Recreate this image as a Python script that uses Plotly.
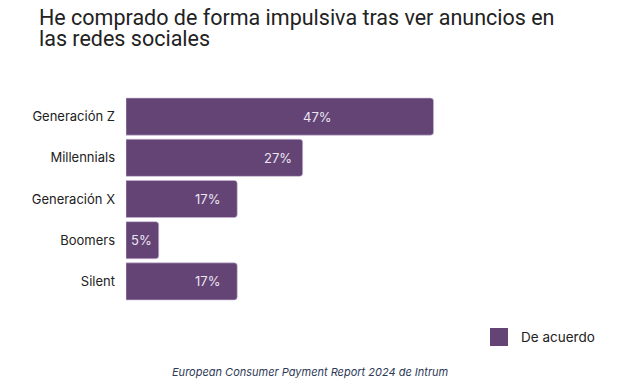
import plotly.graph_objects as go

categories = ["Generación Z", "Millennials", "Generación X", "Boomers", "Silent"]
values = [47, 27, 17, 5, 17]
value_labels = ["47%", "27%", "17%", "5%", "17%"]
series_name = "De acuerdo"
title_lines = ["He comprado de forma impulsiva tras ver anuncios en", "las redes sociales"]
source_text = "European Consumer Payment Report 2024 de Intrum"

# label anchor positions (in % units along the bar)
label_x = [29.2, 23.3, 12.4, 2.4, 12.4]

bar_color = "#634475"

W, H = 640, 384
ml, mr, mt, mb = 126, 56, 96, 82
pw, ph = W - ml - mr, H - mt - mb


def px2paper(px, py):
    return (px - ml) / pw, (H - mb - py) / ph


fig = go.Figure()
fig.add_trace(go.Bar(
    y=categories, x=values, orientation="h",
    marker=dict(color=bar_color, cornerradius=3,
                line=dict(color="#c9b8d6", width=0.6)),
    name=series_name, showlegend=False, hoverinfo="skip",
))

annotations = []
for c, lx, t in zip(categories, label_x, value_labels):
    annotations.append(dict(x=lx, y=c, xref="x", yref="y", text=t,
                            showarrow=False,
                            font=dict(family="Inter, Roboto, sans-serif", size=13, color="#ece4f2")))

# title lines
for i, line in enumerate(title_lines):
    tx, ty = px2paper(37, 18 + 20.5 * i)
    annotations.append(dict(x=tx, y=ty, xref="paper", yref="paper", text=line,
                            showarrow=False, xanchor="left", yanchor="middle",
                            font=dict(family="Roboto, sans-serif", size=21.5, color="#222222")))

lx_, ly_ = px2paper(519, 337)
annotations.append(dict(x=lx_, y=ly_, xref="paper", yref="paper", text=series_name,
                        showarrow=False, xanchor="left", yanchor="middle",
                        font=dict(family="Inter, Roboto, sans-serif", size=13.5, color="#222222")))
sx, sy = px2paper(310, 372)
annotations.append(dict(x=sx, y=sy, xref="paper", yref="paper",
                        text="<i>" + source_text + "</i>",
                        showarrow=False, xanchor="center", yanchor="middle",
                        font=dict(family="Inter, Roboto, sans-serif", size=11, color="#2e3a57")))

x0, y0 = px2paper(490, 346)
x1, y1 = px2paper(508, 328)

fig.update_layout(
    width=W, height=H,
    margin=dict(l=ml, r=mr, t=mt, b=mb),
    paper_bgcolor="white", plot_bgcolor="white",
    bargap=0.1,
    xaxis=dict(range=[0, 70], visible=False, fixedrange=True),
    yaxis=dict(autorange="reversed", showgrid=False, showline=False, zeroline=False,
               ticks="", ticklabelstandoff=10, fixedrange=True,
               tickfont=dict(family="Inter, Roboto, sans-serif", size=13, color="#222222")),
    annotations=annotations,
    shapes=[dict(type="rect", xref="paper", yref="paper", x0=x0, y0=y0, x1=x1, y1=y1,
                 fillcolor=bar_color, line=dict(width=0))],
)

fig.write_html("out.html", config={"displayModeBar": False},
               post_script="document.body.style.margin='0';document.body.style.padding='0';document.body.style.overflow='hidden';")
